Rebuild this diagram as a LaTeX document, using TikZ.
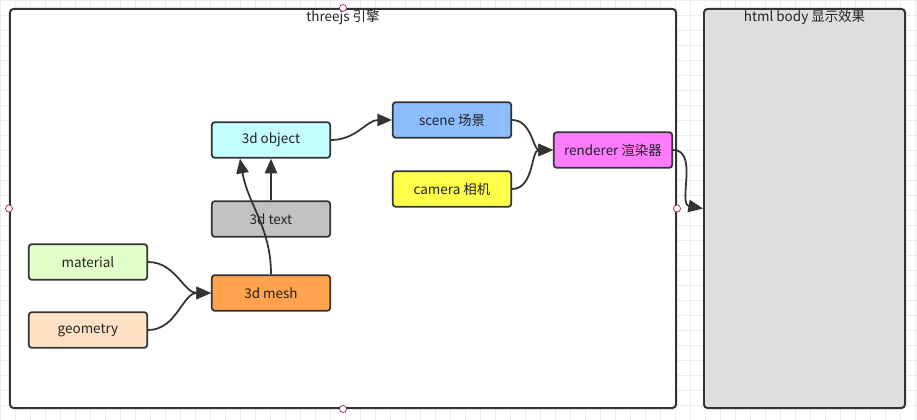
\documentclass[tikz,border=0pt]{standalone}
\usepackage{fontspec}
\setmainfont{Noto Sans CJK SC}
\usetikzlibrary{arrows.meta,calc}
\definecolor{edge}{HTML}{333333}
\definecolor{textc}{HTML}{222222}
\definecolor{gridc}{HTML}{EDEDED}
\definecolor{handlec}{HTML}{9A2A3A}
\definecolor{bodyc}{HTML}{DEDDDF}
\definecolor{objc}{HTML}{C4FDFF}
\definecolor{txtc}{HTML}{C2C1C3}
\definecolor{matc}{HTML}{E2FFC9}
\definecolor{geoc}{HTML}{FFE2C6}
\definecolor{meshc}{HTML}{FFA34F}
\definecolor{scenec}{HTML}{8CBDFF}
\definecolor{camc}{HTML}{FFFF4A}
\definecolor{rendc}{HTML}{FF7BFF}

\begin{document}
\begin{tikzpicture}[x=0.03cm, y=-0.03cm, line width=1.5pt,
    box/.style={rectangle, rounded corners=2.5pt, draw=edge, minimum width=3.55cm,
                minimum height=1.07cm, text=textc, font=\fontsize{11.5}{13}\selectfont},
    frame/.style={rectangle, rounded corners=3pt, draw=edge, line width=1.7pt},
    arr/.style={draw=edge, line width=1.5pt, -{Triangle[length=12.5pt,width=10.5pt]}},
    handle/.style={circle, draw=handlec, fill=white, line width=0.6pt,
                   inner sep=0pt, minimum size=6pt}]
  \useasboundingbox (0,0) rectangle (917,420);
  \draw[gridc, line width=0.4pt, step=0.45cm] (0,0) grid (917,420);

  % containers
  \node[frame, fill=white, minimum width=19.98cm, minimum height=11.97cm] (engine) at (343,208.5) {};
  \node[frame, fill=bodyc, minimum width=6.03cm, minimum height=11.97cm] (body) at (804.5,208.5) {};
  \node[anchor=north, text=textc, font=\fontsize{11.5}{13}\selectfont, inner sep=1.5pt] (enginetitle)
    at (engine.north) {threejs 引擎};
  \node[anchor=north, text=textc, font=\fontsize{11.5}{13}\selectfont, inner sep=1.5pt] (bodytitle)
    at (body.north) {html body 显示效果};

  % boxes
  \node[box, fill=objc] (obj) at (271,140) {3d object};
  \node[box, fill=txtc] (txt) at (271,219) {3d text};
  \node[box, fill=matc] (mat) at (88,262) {material};
  \node[box, fill=geoc] (geo) at (88,330) {geometry};
  \node[box, fill=meshc] (mesh) at (271,293) {3d mesh};
  \node[box, fill=scenec] (scene) at (452,120) {scene 场景};
  \node[box, fill=camc] (camera) at (452,189) {camera 相机};
  \node[box, fill=rendc] (render) at (613,150) {renderer 渲染器};

  % links
  \draw[arr] (obj.east) to[out=0, in=180] (scene.west);
  \draw[arr] (scene.east) to[out=0, in=180] (render.west);
  \draw[arr] (camera.east) to[out=0, in=180] (render.west);
  \draw[arr] (mat.east) to[out=0, in=180] (mesh.west);
  \draw[arr] (geo.east) to[out=0, in=180] (mesh.west);
  \draw[arr] (txt.north) -- (obj.south);
  \draw[arr] (mesh.north) to[out=90, in=-80] ($(obj.south)+(-31,0)$);
  \draw[arr] (render.east) to[out=0, in=170] (body.west);

  % selection handles
  \foreach \side in {west, north, east, south}
    \node[handle] (h-\side) at (engine.\side) {};
\end{tikzpicture}
\end{document}
